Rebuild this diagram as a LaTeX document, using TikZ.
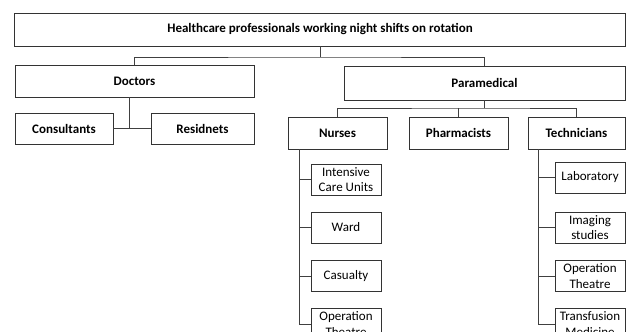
\documentclass[tikz,border=0pt]{standalone}
\usepackage{fontspec}
\setmainfont{Carlito}
\begin{document}
\begin{tikzpicture}[x=1pt,y=-1pt,
  box/.style={draw=black!80, line width=0.8pt, fill=white, inner sep=0pt, align=center,
    font=\fontsize{13}{15.5}\selectfont},
  hbox/.style={box, font=\fontsize{13}{15.5}\selectfont\bfseries},
  conn/.style={draw=black!75, line width=0.8pt}]
\useasboundingbox (0,0) rectangle (627,332);
\clip (0,0) rectangle (627,332);
\fill[white] (0,0) rectangle (627,332);
% top level
\node[hbox, minimum width=611pt, minimum height=33pt] (top) at (320,29.5) {Healthcare professionals working night shifts on rotation};
\node[hbox, minimum width=239pt, minimum height=32pt] (doc) at (134.5,81) {Doctors};
\node[hbox, minimum width=281pt, minimum height=34pt] (para) at (484.5,83) {Paramedical};
% doctors
\node[hbox, minimum width=98pt, minimum height=31pt] (cons) at (64,128.5) {Consultants};
\node[hbox, minimum width=103pt, minimum height=31pt] (res) at (202.5,128.5) {Residnets};
% paramedical
\node[hbox, minimum width=99pt, minimum height=32pt] (nur) at (337.5,133) {Nurses};
\node[hbox, minimum width=99pt, minimum height=32pt] (pha) at (458.5,133) {Pharmacists};
\node[hbox, minimum width=97pt, minimum height=32pt] (tec) at (576.5,133) {Technicians};
% nurse leaves
\node[box, minimum width=70pt, minimum height=31pt] (n1) at (346,179.5) {Intensive\\Care Units};
\node[box, minimum width=70pt, minimum height=31pt] (n2) at (346,227.5) {Ward};
\node[box, minimum width=70pt, minimum height=31pt] (n3) at (346,276) {Casualty};
\node[box, minimum width=70pt, minimum height=31pt] (n4) at (346,324) {Operation\\Theatre};
% technician leaves
\node[box, minimum width=70pt, minimum height=31pt] (t1) at (590,177.5) {Laboratory};
\node[box, minimum width=70pt, minimum height=31pt] (t2) at (590,227.5) {Imaging\\studies};
\node[box, minimum width=70pt, minimum height=31pt] (t3) at (590,276) {Operation\\Theatre};
\node[box, minimum width=70pt, minimum height=31pt] (t4) at (590,324) {Transfusion\\Medicine};
% connectors
\coordinate (j1) at (320,57);
\draw[conn] (top.south -| j1) -- (j1);
\draw[conn] (doc.north) |- (j1) -| (para.north);
\coordinate (dj) at (129,128.5);
\draw[conn] (doc.south -| dj) -- (dj);
\draw[conn] (cons.east) -- (res.west);
\coordinate (pj) at (484.5,108);
\draw[conn] (para.south) -- (pj);
\draw[conn] (nur.north) |- (pj) -| (tec.north);
\draw[conn] (pha.north) -- (pha.north |- pj);
\coordinate (nv) at (299,149);
\draw[conn] (nur.south -| nv) |- (n4.west);
\foreach \n in {n1,n2,n3} \draw[conn] (\n.west) -- (\n.west -| nv);
\coordinate (tv) at (538,149);
\draw[conn] (tec.south -| tv) |- (t4.west);
\foreach \n in {t1,t2,t3} \draw[conn] (\n.west) -- (\n.west -| tv);
\end{tikzpicture}
\end{document}
